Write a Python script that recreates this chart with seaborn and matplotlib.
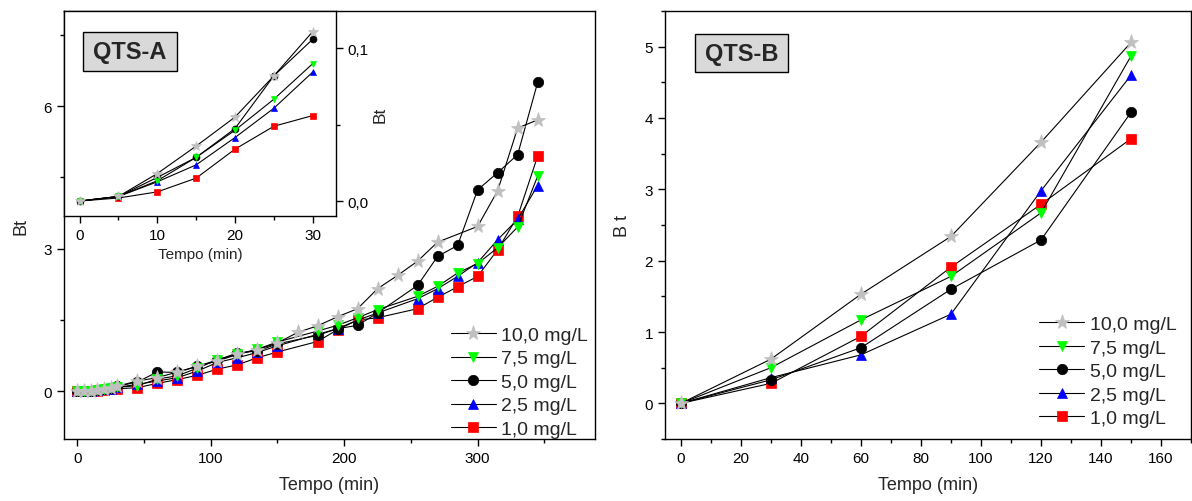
import matplotlib
matplotlib.use("Agg")
import matplotlib.pyplot as plt
import seaborn as sns
import pandas as pd
from matplotlib.ticker import MultipleLocator, FuncFormatter
from matplotlib.patches import Rectangle

sns.set_theme(style="ticks")
plt.rcParams["font.family"] = ["Liberation Sans", "DejaVu Sans"]

# ---------------- data ----------------
labels = ["10,0 mg/L", "7,5 mg/L", "5,0 mg/L", "2,5 mg/L", "1,0 mg/L"]
colors = ["#c0c0c0", "#00ff00", "#000000", "#0000ff", "#ff0000"]
markers = ["*", "v", "o", "^", "s"]

# QTS-A early (inset) data, 0-30 min
t_early = [0, 5, 10, 15, 20, 25, 30]
a_early_10 = [0.0, 0.003, 0.018, 0.036, 0.055, 0.082, 0.111]
a_early_75 = [0.0, 0.003, 0.0133, 0.0286, 0.0464, 0.0667, 0.090]
a_early_50 = [0.0, 0.003, 0.0155, 0.0286, 0.0475, 0.082, 0.106]
a_early_25 = [0.0, 0.003, 0.0126, 0.0237, 0.0416, 0.0608, 0.0845]
a_early_10b = [0.0, 0.002, 0.006, 0.015, 0.034, 0.049, 0.056]

# QTS-A later data
t_late_star = [45, 60, 75, 90, 105, 120, 135, 150, 165, 180, 195, 210, 225, 240, 255, 270, 300, 315, 330, 345]
a_late_10 = [0.22, 0.29, 0.41, 0.53, 0.64, 0.78, 0.88, 1.02, 1.24, 1.38, 1.57, 1.74, 2.16, 2.44, 2.74, 3.14, 3.47, 4.22, 5.54, 5.71]
t_late = [45, 60, 75, 90, 105, 120, 135, 150, 180, 195, 210, 225, 255, 270, 285, 300, 315, 330, 345]
a_late_75 = [0.12, 0.26, 0.33, 0.49, 0.67, 0.78, 0.89, 1.04, 1.27, 1.39, 1.55, 1.72, 2.00, 2.21, 2.49, 2.69, 3.02, 3.46, 4.53]
a_late_50 = [0.20, 0.41, 0.40, 0.53, 0.66, 0.81, 0.85, 1.00, 1.18, 1.32, 1.39, 1.65, 2.23, 2.84, 3.07, 4.24, 4.60, 4.98, 6.50]
a_late_25 = [0.15, 0.22, 0.29, 0.43, 0.61, 0.71, 0.82, 0.96, 1.20, 1.32, 1.50, 1.65, 1.95, 2.16, 2.42, 2.71, 3.19, 3.62, 4.33]
a_late_10b = [0.08, 0.17, 0.25, 0.34, 0.47, 0.56, 0.71, 0.83, 1.05, 1.30, 1.50, 1.55, 1.74, 1.98, 2.20, 2.42, 2.98, 3.68, 4.95]

# QTS-B data
t_b = [0, 30, 60, 90, 120, 150]
b_10 = [0.0, 0.62, 1.53, 2.34, 3.66, 5.06]
b_75 = [0.0, 0.50, 1.17, 1.78, 2.67, 4.87]
b_50 = [0.0, 0.33, 0.78, 1.60, 2.29, 4.08]
b_25 = [0.0, 0.36, 0.68, 1.25, 2.98, 4.60]
b_10b = [0.0, 0.28, 0.94, 1.91, 2.79, 3.71]

early = [a_early_10, a_early_75, a_early_50, a_early_25, a_early_10b]
late_t = [t_late_star, t_late, t_late, t_late, t_late]
late = [a_late_10, a_late_75, a_late_50, a_late_25, a_late_10b]
bvals = [b_10, b_75, b_50, b_25, b_10b]

# ---------------- figure ----------------
fig = plt.figure(figsize=(11.92, 5.02), dpi=100)
axA = fig.add_axes([0.0537, 0.1235, 0.4455, 0.8526])
axI = fig.add_axes([0.0537, 0.5677, 0.2282, 0.4084])
axB = fig.add_axes([0.5579, 0.1235, 0.4413, 0.8526])

TICK = 11
LAB = 13
draw_order = [4, 3, 2, 1, 0]

def plot_series(ax, x, y, i, ms, lw=0.8):
    size = ms * (1.45 if markers[i] == "*" else 1.0)
    df = pd.DataFrame({"x": x, "y": y})
    sns.lineplot(data=df, x="x", y="y", ax=ax, color="black", lw=lw,
                 marker=markers[i], markersize=size, markerfacecolor=colors[i],
                 markeredgecolor=colors[i], markeredgewidth=0.5,
                 estimator=None, sort=False, label=labels[i], legend=False)

def tag(ax, x0, y0, w, h, txt):
    ax.add_patch(Rectangle((x0, y0), w, h, transform=ax.transAxes, facecolor="#d9d9d9",
                           edgecolor="black", lw=1.0, zorder=5))
    ax.text(x0 + w / 2, y0 + h / 2, txt, transform=ax.transAxes, ha="center",
            va="center", fontsize=17, fontweight="bold", zorder=6)

# Main QTS-A
handles = {}
for i in draw_order:
    plot_series(axA, t_early + late_t[i], early[i] + late[i], i, 7.5)
    handles[i] = axA.lines[-1]

axA.set_xlim(-10, 388)
axA.set_ylim(-1, 8.0)
axA.xaxis.set_major_locator(MultipleLocator(100))
axA.xaxis.set_minor_locator(MultipleLocator(50))
axA.yaxis.set_major_locator(MultipleLocator(3))
axA.yaxis.set_minor_locator(MultipleLocator(1.5))
axA.set_xlabel("Tempo (min)", fontsize=LAB, labelpad=8)
axA.set_ylabel("Bt", fontsize=LAB, labelpad=10)
axA.legend([handles[i] for i in range(5)], labels, loc="lower right",
           bbox_to_anchor=(1.02, -0.038), frameon=False, fontsize=14,
           handlelength=2.3, handletextpad=0.3, labelspacing=0.3)

# Inset
for i in draw_order:
    plot_series(axI, t_early, early[i], i, 5.0)
axI.set_xlim(-2, 33)
axI.set_ylim(-0.0098, 0.1245)
axI.xaxis.set_major_locator(MultipleLocator(10))
axI.xaxis.set_minor_locator(MultipleLocator(5))
axI.yaxis.set_major_locator(MultipleLocator(0.1))
axI.yaxis.set_minor_locator(MultipleLocator(0.05))
axI.yaxis.tick_right()
axI.yaxis.set_label_position("right")
axI.yaxis.set_major_formatter(FuncFormatter(lambda v, p: f"{v:.1f}".replace(".", ",")))
axI.set_xlabel("Tempo (min)", fontsize=11, labelpad=4)
axI.set_ylabel("Bt", fontsize=12.5, labelpad=3)
axI.set_facecolor("white")
tag(axI, 0.0699, 0.7073, 0.3456, 0.1902, "QTS-A")

# QTS-B
hb = {}
for i in draw_order:
    plot_series(axB, t_b, bvals[i], i, 7.5)
    hb[i] = axB.lines[-1]
axB.set_xlim(-5.3, 170)
axB.set_ylim(-0.5, 5.5)
axB.xaxis.set_major_locator(MultipleLocator(20))
axB.xaxis.set_minor_locator(MultipleLocator(10))
axB.yaxis.set_major_locator(MultipleLocator(1))
axB.yaxis.set_minor_locator(MultipleLocator(0.5))
axB.set_xlabel("Tempo (min)", fontsize=LAB, labelpad=8)
axB.set_ylabel("B t", fontsize=LAB, labelpad=10)
axB.legend([hb[i] for i in range(5)], labels, loc="lower right",
           bbox_to_anchor=(1.006, -0.013), frameon=False, fontsize=14,
           handlelength=2.3, handletextpad=0.3, labelspacing=0.3)
tag(axB, 0.057, 0.8575, 0.1768, 0.0885, "QTS-B")

for ax in (axA, axI, axB):
    for s in ax.spines.values():
        s.set_linewidth(1.0)
        s.set_color("black")
    ax.tick_params(which="both", direction="out", colors="black", labelsize=TICK, width=1.0)
    ax.tick_params(which="major", length=5)
    ax.tick_params(which="minor", length=3)
    ax.grid(False)

axA.tick_params(top=False, right=False)
axI.tick_params(left=False, top=False, right=True, which="both")
axB.tick_params(top=False, right=False)

fig.savefig("out.png", dpi=100)
